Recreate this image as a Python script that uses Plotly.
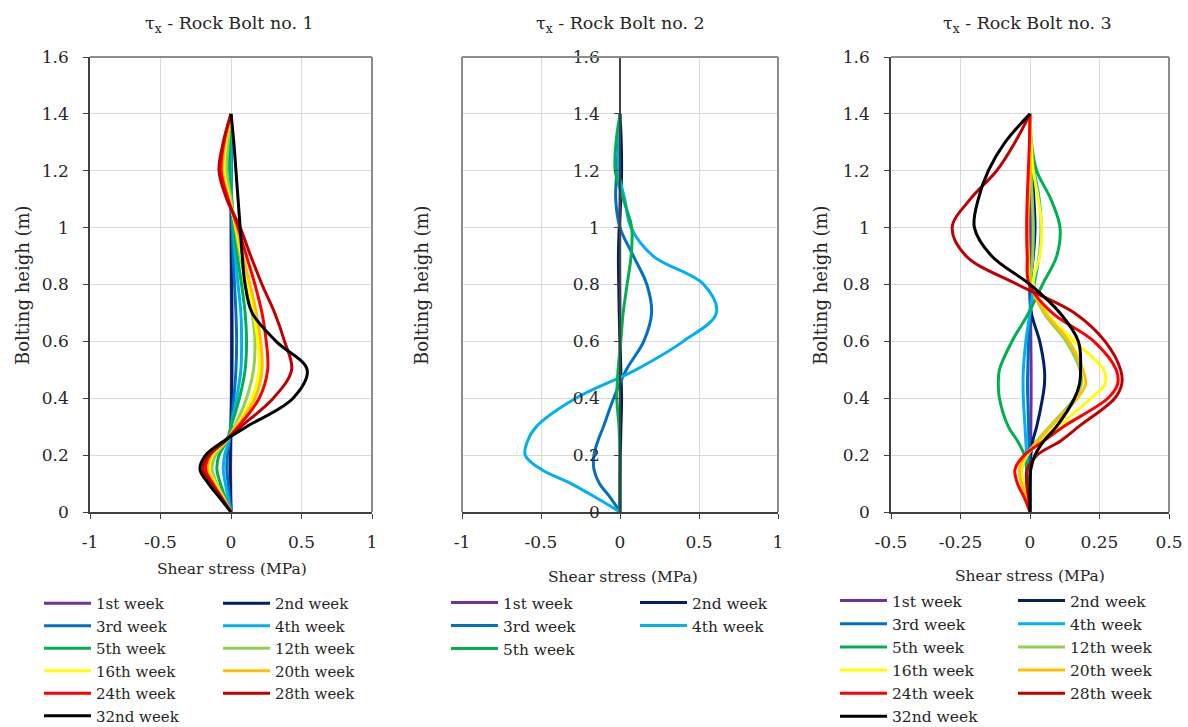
import plotly.graph_objects as go

W, H = 1188, 727

WEEKS = ["1st week", "2nd week", "3rd week", "4th week", "5th week", "12th week",
         "16th week", "20th week", "24th week", "28th week", "32nd week"]
COLORS = ["#7030A0", "#002060", "#0070C0", "#00B0F0", "#00B050", "#92D050",
          "#FFFF00", "#FFC000", "#FF0000", "#C00000", "#000000"]

TITLES = ["τ<sub>x</sub> - Rock Bolt no. 1", "τ<sub>x</sub> - Rock Bolt no. 2", "τ<sub>x</sub> - Rock Bolt no. 3"]
X_TITLE = "Shear stress (MPa)"
Y_TITLE = "Bolting heigh (m)"

Y_TICKS = [0, 0.2, 0.4, 0.6, 0.8, 1.0, 1.2, 1.4, 1.6]
Y_TICKTEXT = ["0", "0.2", "0.4", "0.6", "0.8", "1", "1.2", "1.4", "1.6"]
X_TICKS_12 = [-1, -0.5, 0, 0.5, 1]
X_TICKTEXT_12 = ["-1", "-0.5", "0", "0.5", "1"]
X_TICKS_3 = [-0.5, -0.25, 0, 0.25, 0.5]
X_TICKTEXT_3 = ["-0.5", "-0.25", "0", "0.25", "0.5"]

# ---------------- Rock Bolt no. 1 ----------------
h_bolt1 = [0, 0.05, 0.1, 0.15, 0.2, 0.25, 0.3, 0.4, 0.5, 0.6, 0.7, 0.8, 0.9, 1.0, 1.1, 1.2, 1.3, 1.4]
bolt1_w1 = [0, -0.001, -0.002, -0.003, -0.002, -0.001, 0, 0.002, 0.003, 0.003, 0.003, 0.002, 0.001, 0.001, 0, 0, 0, 0]
bolt1_w2 = [0, -0.003, -0.005, -0.007, -0.006, -0.003, 0, 0.004, 0.007, 0.008, 0.007, 0.005, 0.003, 0.002, 0.001, 0, 0, 0]
bolt1_w3 = [0, -0.01, -0.02, -0.03, -0.025, -0.01, 0, 0.02, 0.035, 0.04, 0.035, 0.025, 0.015, 0.008, 0.003, 0, 0, 0]
bolt1_w4 = [0, -0.02, -0.04, -0.055, -0.045, -0.015, 0.0, 0.04, 0.07, 0.075, 0.07, 0.05, 0.03, 0.015, 0.005, 0, 0, 0]
bolt1_w5 = [0, -0.04, -0.075, -0.1, -0.085, -0.03, 0.0, 0.06, 0.1, 0.11, 0.1, 0.075, 0.045, 0.02, 0.005, -0.01, -0.008, 0]
bolt1_w12 = [0, -0.05, -0.1, -0.135, -0.11, -0.03, 0.025, 0.11, 0.16, 0.17, 0.15, 0.11, 0.065, 0.03, 0.0, -0.03, -0.02, 0]
bolt1_w16 = [0, -0.055, -0.11, -0.155, -0.13, -0.035, 0.035, 0.15, 0.2, 0.19, 0.16, 0.12, 0.075, 0.035, -0.01, -0.05, -0.035, 0]
bolt1_w20 = [0, -0.06, -0.12, -0.165, -0.14, -0.04, 0.04, 0.17, 0.22, 0.21, 0.18, 0.135, 0.085, 0.04, -0.015, -0.06, -0.04, 0]
bolt1_w24 = [0, -0.065, -0.13, -0.18, -0.15, -0.04, 0.05, 0.2, 0.26, 0.25, 0.22, 0.17, 0.11, 0.05, -0.02, -0.07, -0.05, 0]
bolt1_w28 = [0, -0.07, -0.14, -0.2, -0.16, -0.04, 0.07, 0.3, 0.43, 0.38, 0.31, 0.22, 0.14, 0.065, -0.03, -0.085, -0.055, 0]
bolt1_w32 = [0, -0.08, -0.16, -0.22, -0.18, -0.05, 0.11, 0.44, 0.54, 0.32, 0.15, 0.10, 0.08, 0.065, 0.05, 0.035, 0.02, 0]

# ---------------- Rock Bolt no. 2 ----------------
h_bolt2 = [0, 0.05, 0.1, 0.15, 0.2, 0.25, 0.3, 0.4, 0.5, 0.6, 0.7, 0.8, 0.9, 1.0, 1.1, 1.2, 1.3, 1.4]
bolt2_w1 = [0, 0, 0, 0, 0, 0.001, 0.002, 0.003, 0.002, 0.001, 0, -0.001, -0.002, -0.001, 0, 0.001, 0.001, 0]
bolt2_w2 = [0, 0, 0, 0.001, 0.002, 0.004, 0.006, 0.01, 0.005, 0, -0.005, -0.008, -0.01, -0.005, 0.005, 0.01, 0.008, 0]
bolt2_w3 = [0, -0.06, -0.13, -0.165, -0.165, -0.14, -0.105, -0.04, 0.04, 0.15, 0.2, 0.17, 0.085, 0.0, -0.027, -0.02, -0.008, 0]
bolt2_w4 = [0, -0.15, -0.31, -0.5, -0.6, -0.585, -0.53, -0.28, 0.1, 0.4, 0.61, 0.53, 0.21, 0.07, 0.03, -0.01, -0.005, 0]
bolt2_w5 = [0, 0, 0, 0, 0, -0.003, -0.006, -0.02, -0.012, 0.005, 0.02, 0.045, 0.07, 0.074, 0.021, -0.03, -0.025, 0]

# ---------------- Rock Bolt no. 3 ----------------
h_bolt3 = [0, 0.05, 0.1, 0.15, 0.2, 0.25, 0.3, 0.4, 0.45, 0.5, 0.6, 0.7, 0.8, 0.9, 1.0, 1.1, 1.2, 1.3, 1.4]
bolt3_w1 = [0, 0, 0, 0.001, 0.002, 0.003, 0.003, 0.004, 0.004, 0.004, 0.003, 0.002, 0.001, 0, 0, 0, 0, 0, 0]
bolt3_w2 = [0, 0, 0, 0.001, 0.003, 0.01, 0.024, 0.045, 0.052, 0.052, 0.035, 0.005, 0.0, 0.012, 0.018, 0.014, 0.007, 0.002, 0]
bolt3_w3 = [0, 0, -0.001, -0.002, -0.003, -0.004, -0.005, -0.008, -0.009, -0.008, -0.005, 0, 0.004, 0.008, 0.01, 0.008, 0.004, 0.001, 0]
bolt3_w4 = [0, -0.002, -0.005, -0.008, -0.012, -0.015, -0.018, -0.024, -0.025, -0.024, -0.015, 0.0, 0.015, 0.033, 0.04, 0.033, 0.015, 0.003, 0]
bolt3_w5 = [0, -0.004, -0.008, -0.012, -0.02, -0.045, -0.078, -0.11, -0.114, -0.11, -0.065, -0.005, 0.045, 0.096, 0.108, 0.075, 0.024, 0.005, 0]
bolt3_w12 = [0, -0.01, -0.025, -0.03, -0.01, 0.025, 0.07, 0.16, 0.185, 0.18, 0.13, 0.05, 0.005, 0.01, 0.012, 0.008, 0.003, 0.001, 0]
bolt3_w16 = [0, -0.01, -0.025, -0.032, -0.01, 0.035, 0.1, 0.22, 0.27, 0.265, 0.16, 0.06, 0.012, 0.035, 0.042, 0.03, 0.012, 0.004, 0]
bolt3_w20 = [0, -0.012, -0.03, -0.038, -0.015, 0.03, 0.075, 0.17, 0.2, 0.19, 0.14, 0.055, 0.0, -0.005, -0.008, -0.005, 0.0, 0.0, 0]
bolt3_w24 = [0, -0.02, -0.045, -0.054, -0.02, 0.05, 0.12, 0.28, 0.315, 0.31, 0.23, 0.08, -0.003, -0.01, -0.012, -0.01, -0.006, -0.002, 0]
bolt3_w28 = [0, -0.005, -0.012, -0.01, 0.025, 0.11, 0.175, 0.305, 0.33, 0.326, 0.27, 0.16, -0.045, -0.23, -0.28, -0.215, -0.12, -0.054, 0]
bolt3_w32 = [0, 0, 0, 0.003, 0.018, 0.05, 0.095, 0.16, 0.178, 0.182, 0.174, 0.108, 0.0, -0.138, -0.2, -0.186, -0.15, -0.09, 0]

BOLT1 = [bolt1_w1, bolt1_w2, bolt1_w3, bolt1_w4, bolt1_w5, bolt1_w12,
         bolt1_w16, bolt1_w20, bolt1_w24, bolt1_w28, bolt1_w32]
BOLT2 = [bolt2_w1, bolt2_w2, bolt2_w3, bolt2_w4, bolt2_w5]
BOLT3 = [bolt3_w1, bolt3_w2, bolt3_w3, bolt3_w4, bolt3_w5, bolt3_w12,
         bolt3_w16, bolt3_w20, bolt3_w24, bolt3_w28, bolt3_w32]

FONT = "DejaVu Serif"
TXT = "#262626"
AXC = "#404040"
GRID = "#d9d9d9"
FRAME = "#8c8c8c"


def fx(px):
    return px / W


def fy(py):
    return 1 - py / H


# plot-area pixel boxes (left, right) and common (top, bottom)
TOP, BOT = 57, 512
boxes = [(90, 372), (462, 778), (891, 1169)]

panels = [
    dict(h=h_bolt1, series=BOLT1, legends=("legend", "legend2"), xr=[-1, 1],
         tv=X_TICKS_12, tt=X_TICKTEXT_12),
    dict(h=h_bolt2, series=BOLT2, legends=("legend3", "legend4"), xr=[-1, 1],
         tv=X_TICKS_12, tt=X_TICKTEXT_12),
    dict(h=h_bolt3, series=BOLT3, legends=("legend5", "legend6"), xr=[-0.5, 0.5],
         tv=X_TICKS_3, tt=X_TICKTEXT_3),
]

fig = go.Figure()
for p, pan in enumerate(panels):
    xa = "x" if p == 0 else f"x{p + 1}"
    ya = "y" if p == 0 else f"y{p + 1}"
    for i, vals in enumerate(pan["series"]):
        fig.add_trace(go.Scatter(
            x=vals, y=pan["h"], mode="lines", name=WEEKS[i],
            line=dict(color=COLORS[i], width=3, shape="spline", smoothing=1.0),
            xaxis=xa, yaxis=ya, legend=pan["legends"][i % 2],
            hoverinfo="skip"))

layout = dict(
    width=W, height=H, margin=dict(l=0, r=0, t=0, b=0, autoexpand=False),
    paper_bgcolor="white", plot_bgcolor="white",
    font=dict(family=FONT, color=TXT, size=16),
    showlegend=True,
)

for p, pan in enumerate(panels):
    l, r = boxes[p]
    suf = "" if p == 0 else str(p + 1)
    xkey, ykey = "xaxis" + suf, "yaxis" + suf
    xa_name = "x" + suf
    ya_name = "y" + suf
    common = dict(showgrid=True, gridcolor=GRID, gridwidth=1, zeroline=False,
                  showline=True, linecolor=AXC, linewidth=1.5, ticks="outside",
                  ticklen=5, tickcolor=AXC, tickwidth=1.2,
                  tickfont=dict(family=FONT, size=17, color=TXT), fixedrange=True)
    layout[xkey] = dict(domain=[fx(l), fx(r)], range=pan["xr"], tickvals=pan["tv"],
                        ticktext=pan["tt"], anchor=ya_name, ticklabelstandoff=9, **common)
    ydict = dict(domain=[fy(BOT), fy(TOP)], range=[0, 1.6], tickvals=Y_TICKS,
                 ticktext=Y_TICKTEXT, ticklabelstandoff=11, **common)
    if p == 1:
        x0 = pan["xr"][0]
        x1 = pan["xr"][1]
        pos = fx(l) + (0 - x0) / (x1 - x0) * (fx(r) - fx(l))
        ydict.update(anchor="free", position=pos)
    else:
        ydict.update(anchor=xa_name)
    layout[ykey] = ydict

fig.update_layout(**layout)

# gray plot-area frame edges (top / right, plus left for the centre panel)
for p in range(3):
    suf = "" if p == 0 else str(p + 1)
    edges = [(0, 1, 1, 1), (1, 1, 0, 1)]
    if p == 1:
        edges.append((0, 0, 0, 1))
    for (ex0, ex1, ey0, ey1) in edges:
        fig.add_shape(type="line", xref=f"x{suf} domain", yref=f"y{suf} domain",
                      x0=ex0, x1=ex1, y0=ey0, y1=ey1, line=dict(color=FRAME, width=2),
                      layer="above")

# titles and axis titles
title_cx = [229, 620, 1027]
xtitle_y = [569, 577, 576]
ytitle_x = [22, 421, 820]
for p in range(3):
    fig.add_annotation(text=TITLES[p], x=fx(title_cx[p]), y=fy(25), xref="paper", yref="paper",
                       xanchor="center", yanchor="middle",
                       showarrow=False, font=dict(family=FONT, size=17.5, color=TXT))
    fig.add_annotation(text=X_TITLE, x=fx(title_cx[p] + 3), y=fy(xtitle_y[p]), xref="paper",
                       yref="paper", xanchor="center", yanchor="middle",
                       showarrow=False, font=dict(family=FONT, size=15.5, color=TXT))
    fig.add_annotation(text=Y_TITLE, x=fx(ytitle_x[p]), y=fy(285), xref="paper", yref="paper",
                       xanchor="center", yanchor="middle",
                       showarrow=False, textangle=-90, font=dict(family=FONT, size=18, color=TXT))

# legends (two columns per panel)
leg_pos = {
    "legend": (39, 587, 15), "legend2": (218, 587, 15),
    "legend3": (446, 586, 15.4), "legend4": (635, 586, 15.4),
    "legend5": (835, 584, 15.5), "legend6": (1013, 584, 15.5),
}
for name, (lx, ly, fs) in leg_pos.items():
    fig.update_layout({name: dict(x=fx(lx), y=fy(ly), xanchor="left", yanchor="top",
                                  orientation="v", bgcolor="rgba(0,0,0,0)", borderwidth=0,
                                  itemwidth=47, tracegroupgap=0,
                                  font=dict(family=FONT, size=fs, color=TXT))})

fig.write_html("out.html", config={"displayModeBar": False},
               post_script="document.body.style.margin='0px';document.body.style.overflow='hidden';")
